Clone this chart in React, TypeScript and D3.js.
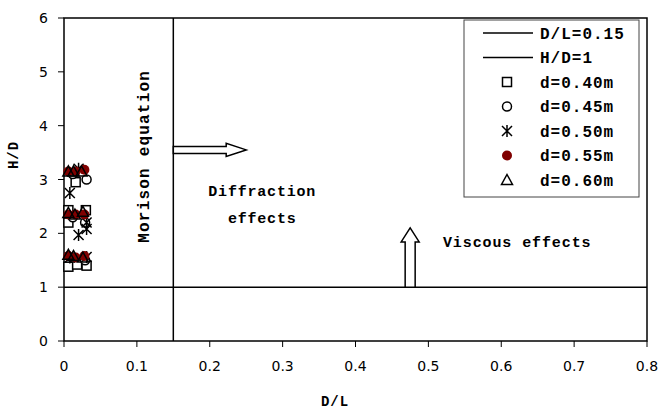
import * as d3 from 'd3'

// axis ticks
const dlTicks = [0, 0.1, 0.2, 0.3, 0.4, 0.5, 0.6, 0.7, 0.8]
const hdTicks = [0, 1, 2, 3, 4, 5, 6]

// measured points [D/L, H/D] per water depth
const d040 = [[0.006, 1.38], [0.018, 1.42], [0.031, 1.4], [0.006, 2.2], [0.006, 2.43], [0.03, 2.43], [0.016, 2.95]]
const d045 = [[0.012, 1.55], [0.029, 1.5], [0.012, 2.3], [0.029, 2.2], [0.012, 3.1], [0.031, 3.0]]
const d050 = [[0.008, 1.55], [0.031, 1.56], [0.02, 1.97], [0.031, 2.08], [0.031, 2.2], [0.008, 2.75], [0.02, 3.2]]
const d055 = [[0.006, 1.58], [0.016, 1.55], [0.028, 1.58], [0.006, 2.35], [0.016, 2.35], [0.028, 2.35], [0.006, 3.15], [0.016, 3.15], [0.028, 3.18]]
const d060 = [[0.006, 1.6], [0.013, 1.58], [0.026, 1.55], [0.006, 2.38], [0.015, 2.35], [0.026, 2.4], [0.006, 3.15], [0.013, 3.15], [0.024, 3.15]]

// limits
const dlLimit = 0.15
const hdLimit = 1

const W = 662
const H = 411
const margin = { top: 18, right: 15, bottom: 70, left: 64 }

const mono = '"Liberation Mono", "Courier New", monospace'
const sans = '"DejaVu Sans", Verdana, sans-serif'

const marker = (kind: string, cx: number, cy: number, key: string | number) => {
  if (kind === 'square')
    return <rect key={key} x={cx - 4.5} y={cy - 4.5} width={9} height={9} fill="white" stroke="black" strokeWidth={1.5} />
  if (kind === 'circle')
    return <circle key={key} cx={cx} cy={cy} r={4.5} fill="white" stroke="black" strokeWidth={1.5} />
  if (kind === 'star')
    return (
      <path key={key} d={`M${cx - 5},${cy - 5}L${cx + 5},${cy + 5}M${cx - 5},${cy + 5}L${cx + 5},${cy - 5}M${cx},${cy - 6}L${cx},${cy + 6}`}
        stroke="black" strokeWidth={1.5} fill="none" />
    )
  if (kind === 'dot') return <circle key={key} cx={cx} cy={cy} r={5} fill="#800000" />
  return <path key={key} d={`M${cx},${cy - 5.5}L${cx + 5.5},${cy + 4.5}L${cx - 5.5},${cy + 4.5}Z`} fill="none" stroke="black" strokeWidth={1.5} />
}

const series = [
  { name: 'd=0.40m', kind: 'square', data: d040 },
  { name: 'd=0.45m', kind: 'circle', data: d045 },
  { name: 'd=0.50m', kind: 'star', data: d050 },
  { name: 'd=0.55m', kind: 'dot', data: d055 },
  { name: 'd=0.60m', kind: 'triangle', data: d060 },
]

export default function App() {
  const x = d3.scaleLinear().domain([0, 0.8]).range([margin.left, W - margin.right])
  const y = d3.scaleLinear().domain([0, 6]).range([H - margin.bottom, margin.top])
  const [x0, x1] = x.range()
  const [y0, y1] = y.range()

  // right arrow (Morison -> diffraction)
  const ax = x(dlLimit)
  const ay = y(3.55)
  const ax2 = x(0.25)
  const rightArrow = `M${ax},${ay - 3.5}L${ax2 - 20},${ay - 3.5}L${ax2 - 20},${ay - 6.5}L${ax2},${ay}L${ax2 - 20},${ay + 6.5}L${ax2 - 20},${ay + 3.5}L${ax},${ay + 3.5}Z`
  // up arrow (viscous)
  const ux = x(0.475)
  const uy = y(hdLimit)
  const uy2 = y(2.1)
  const upArrow = `M${ux - 5},${uy}L${ux - 5},${uy2 + 14}L${ux - 9},${uy2 + 14}L${ux},${uy2}L${ux + 9},${uy2 + 14}L${ux + 5},${uy2 + 14}L${ux + 5},${uy}Z`

  const legendX = 464
  const legendY = 20
  const legendRows = [
    { label: 'D/L=0.15', kind: 'line' },
    { label: 'H/D=1', kind: 'line' },
    ...series.map((s) => ({ label: s.name, kind: s.kind })),
  ]

  return (
    <svg width={W} height={H} style={{ position: 'absolute', left: 0, top: 0, background: 'white' }}>
      {/* frame */}
      <rect x={x0} y={y1} width={x1 - x0} height={y0 - y1} fill="none" stroke="black" strokeWidth={1.5} />

      {/* y ticks */}
      {hdTicks.map((t) => (
        <g key={'y' + t}>
          <line x1={x0 - 6} x2={x0} y1={y(t)} y2={y(t)} stroke="black" />
          <text x={x0 - 16} y={y(t)} dy="0.36em" textAnchor="end" fontFamily={sans} fontSize={14}>{t}</text>
        </g>
      ))}
      {/* x ticks */}
      {dlTicks.map((t) => (
        <g key={'x' + t}>
          <line x1={x(t)} x2={x(t)} y1={y0} y2={y0 + 6} stroke="black" />
          <text x={x(t)} y={y0 + 30} textAnchor="middle" fontFamily={sans} fontSize={14}>{d3.format('')(t)}</text>
        </g>
      ))}

      {/* limit lines */}
      <line x1={x(dlLimit)} x2={x(dlLimit)} y1={y1} y2={y0} stroke="black" strokeWidth={1.5} />
      <line x1={x0} x2={x1} y1={y(hdLimit)} y2={y(hdLimit)} stroke="black" strokeWidth={1.5} />

      {/* points */}
      {series.map((s) => (
        <g key={s.name}>{s.data.map((p, i) => marker(s.kind, x(p[0]), y(p[1]), i))}</g>
      ))}

      {/* arrows */}
      <path d={rightArrow} fill="white" stroke="black" strokeWidth={1.5} />
      <path d={upArrow} fill="white" stroke="black" strokeWidth={1.5} />

      {/* region labels */}
      <text transform={`translate(${x(0.117)},${y(3.43)}) rotate(-90)`} textAnchor="middle" fontFamily={mono} fontSize={16} fontWeight="bold" letterSpacing={1.2}>Morison equation</text>
      <text x={x(0.272)} y={y(2.7)} textAnchor="middle" fontFamily={mono} fontSize={15} fontWeight="bold" letterSpacing={0.8}>Diffraction</text>
      <text x={x(0.272)} y={y(2.2)} textAnchor="middle" fontFamily={mono} fontSize={15} fontWeight="bold" letterSpacing={0.8}>effects</text>
      <text x={x(0.52)} y={y(1.75)} fontFamily={mono} fontSize={15} fontWeight="bold" letterSpacing={0.9}>Viscous effects</text>

      {/* axis titles */}
      <text x={335} y={406} textAnchor="middle" fontFamily={mono} fontSize={14} fontWeight="bold" letterSpacing={1}>D/L</text>
      <text transform={`translate(18,155) rotate(-90)`} textAnchor="middle" fontFamily={mono} fontSize={14} fontWeight="bold" letterSpacing={1}>H/D</text>

      {/* legend */}
      <rect x={legendX} y={legendY} width={175} height={177} fill="white" stroke="#444" />
      {legendRows.map((r, i) => {
        const cy = legendY + 13 + i * 24.5
        return (
          <g key={r.label}>
            {r.kind === 'line'
              ? <line x1={legendX + 19} x2={legendX + 69} y1={cy} y2={cy} stroke="black" strokeWidth={1.5} />
              : marker(r.kind, legendX + 43, cy, 'm')}
            <text x={legendX + 76} y={cy} dy="0.35em" fontFamily={mono} fontSize={16} fontWeight="bold" letterSpacing={1}>{r.label}</text>
          </g>
        )
      })}
    </svg>
  )
}
